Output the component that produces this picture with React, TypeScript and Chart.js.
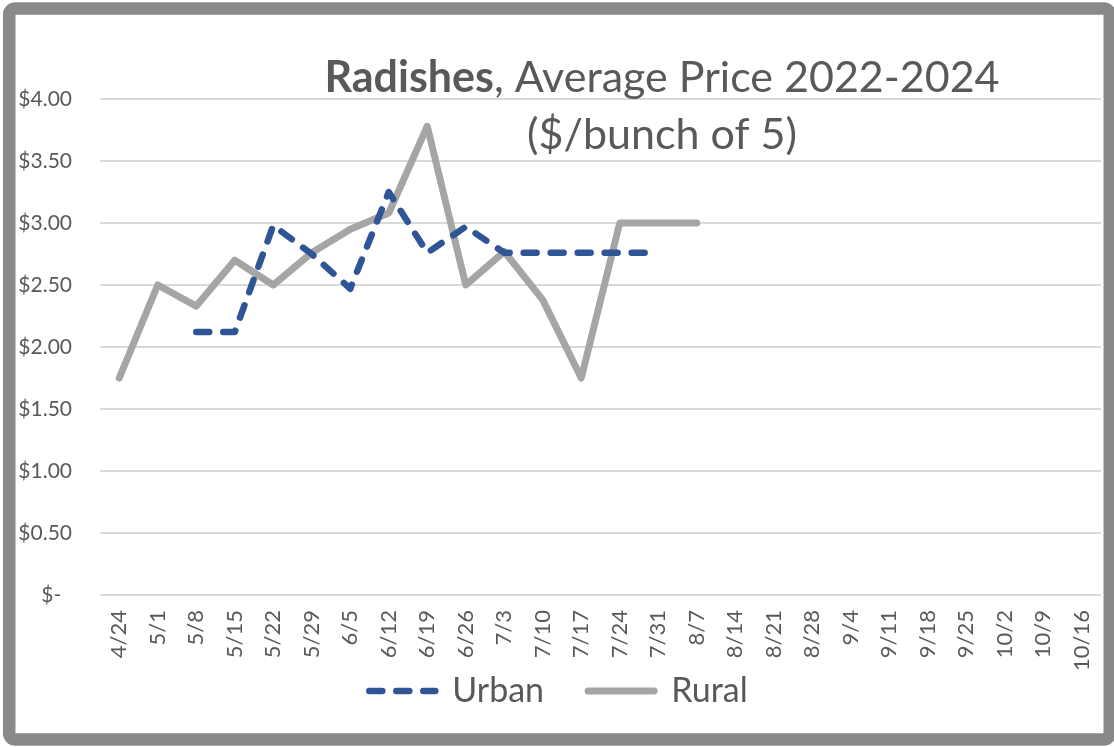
import React, { useEffect, useRef } from "react";
import { Chart, registerables } from "chart.js";

Chart.register(...registerables);

const weeks = ["4/24","5/1","5/8","5/15","5/22","5/29","6/5","6/12","6/19","6/26","7/3","7/10","7/17","7/24","7/31","8/7","8/14","8/21","8/28","9/4","9/11","9/18","9/25","10/2","10/9","10/16"];
const urbanPrices: (number | null)[] = [null,null,2.12,2.12,2.98,2.75,2.47,3.25,2.76,2.97,2.76,2.76,2.76,2.76,2.76,null,null,null,null,null,null,null,null,null,null,null];
const ruralPrices: (number | null)[] = [1.75,2.50,2.33,2.70,2.50,2.76,2.95,3.08,3.78,2.50,2.77,2.38,1.75,3.00,3.00,3.00,null,null,null,null,null,null,null,null,null,null];
const seriesNames = ["Urban", "Rural"];
const titleBold = "Radishes";
const titleRest = ", Average Price 2022-2024";
const titleLine2 = "($/bunch of 5)";

const TEXT = "#595959";
const FONT = "Lato, 'Open Sans', sans-serif";

const framePlugin = {
  id: "frame",
  beforeDraw(chart: any) {
    const ctx = chart.ctx;
    ctx.save();
    ctx.fillStyle = "#ffffff";
    ctx.fillRect(0, 0, chart.width, chart.height);
    ctx.strokeStyle = "#898989";
    ctx.lineWidth = 12.5;
    ctx.beginPath();
    ctx.roundRect(9.25, 8.5, 1100.5, 731, 6);
    ctx.stroke();
    ctx.restore();
  },
};

const titlePlugin = {
  id: "twoLineTitle",
  afterDatasetsDraw(chart: any) {
    const ctx = chart.ctx;
    const area = chart.chartArea;
    const cx = area.left + 562;
    ctx.save();
    ctx.fillStyle = TEXT;
    ctx.textBaseline = "alphabetic";
    ctx.textAlign = "left";
    const boldFont = `bold 43px ${FONT}`;
    const normFont = `43px ${FONT}`;
    ctx.font = boldFont;
    const wb = ctx.measureText(titleBold).width;
    ctx.font = normFont;
    const wr = ctx.measureText(titleRest).width;
    const x0 = cx - (wb + wr) / 2;
    const y1 = area.top - 7;
    ctx.font = boldFont;
    ctx.fillText(titleBold, x0, y1);
    ctx.font = normFont;
    ctx.fillText(titleRest, x0 + wb, y1);
    ctx.textAlign = "center";
    ctx.fillText(titleLine2, cx, y1 + 57);
    ctx.restore();
  },
};

export default function App() {
  const ref = useRef<HTMLCanvasElement | null>(null);
  useEffect(() => {
    if (!ref.current) return;
    const chart = new Chart(ref.current, {
      type: "line",
      data: {
        labels: weeks,
        datasets: [
          {
            label: seriesNames[0],
            data: urbanPrices,
            borderColor: "#2F5597",
            backgroundColor: "#2F5597",
            borderWidth: 6.5,
            borderDash: [13, 14],
            borderCapStyle: "round",
            borderJoinStyle: "round",
            pointRadius: 0,
            pointHoverRadius: 0,
            tension: 0,
            spanGaps: false,
          },
          {
            label: seriesNames[1],
            data: ruralPrices,
            borderColor: "#A5A5A5",
            backgroundColor: "#A5A5A5",
            borderWidth: 7,
            borderCapStyle: "round",
            borderJoinStyle: "round",
            pointRadius: 0,
            pointHoverRadius: 0,
            tension: 0,
            spanGaps: false,
          },
        ],
      },
      options: {
        responsive: false,
        animation: false,
        events: [],
        layout: { padding: { left: 16, right: 13, top: 99, bottom: 29 } },
        scales: {
          x: {
            offset: true,
            grid: { display: false, drawTicks: false },
            border: { display: false },
            ticks: {
              autoSkip: false,
              minRotation: 90,
              maxRotation: 90,
              padding: 15,
              color: TEXT,
              font: { family: FONT, size: 22 },
            },
            afterFit(scale: any) {
              scale.height = 74;
              scale.paddingLeft = 0;
              scale.paddingRight = 0;
            },
          },
          y: {
            min: 0,
            max: 4,
            grid: { color: "#D9D9D9", lineWidth: 2, drawTicks: false },
            border: { display: false },
            ticks: {
              stepSize: 0.5,
              padding: 28,
              color: TEXT,
              font: { family: FONT, size: 21 },
              callback: (v: any) => (Number(v) === 0 ? "$-  " : "$" + Number(v).toFixed(2)),
            },
            afterFit(scale: any) {
              scale.width = 84;
            },
          },
        },
        plugins: {
          title: { display: false },
          tooltip: { enabled: false },
          legend: {
            display: true,
            position: "bottom",
            labels: {
              usePointStyle: true,
              pointStyle: "line",
              pointStyleWidth: 66,
              padding: 5,
              color: TEXT,
              font: { family: FONT, size: 34 },
              generateLabels(chart: any) {
                const items = (Chart.defaults.plugins.legend.labels as any).generateLabels(chart);
                return items.map((it: any, i: number) => {
                  const ds: any = chart.data.datasets[it.datasetIndex ?? i];
                  return {
                    ...it,
                    text: i === 0 ? it.text + "    \u2009" : it.text,
                    pointStyle: "line",
                    lineDash: ds.borderDash || [],
                    lineCap: "round",
                    lineJoin: "round",
                    lineWidth: ds.borderWidth,
                    strokeStyle: ds.borderColor,
                    fillStyle: ds.borderColor,
                    fontColor: TEXT,
                  };
                });
              },
            },
          },
        },
      },
      plugins: [framePlugin, titlePlugin],
    } as any);
    return () => chart.destroy();
  }, []);
  return (
    <div style={{ position: "absolute", left: 0, top: 0, width: 1114, height: 747 }}>
      <canvas ref={ref} width={1114} height={747} style={{ display: "block" }} />
    </div>
  );
}
